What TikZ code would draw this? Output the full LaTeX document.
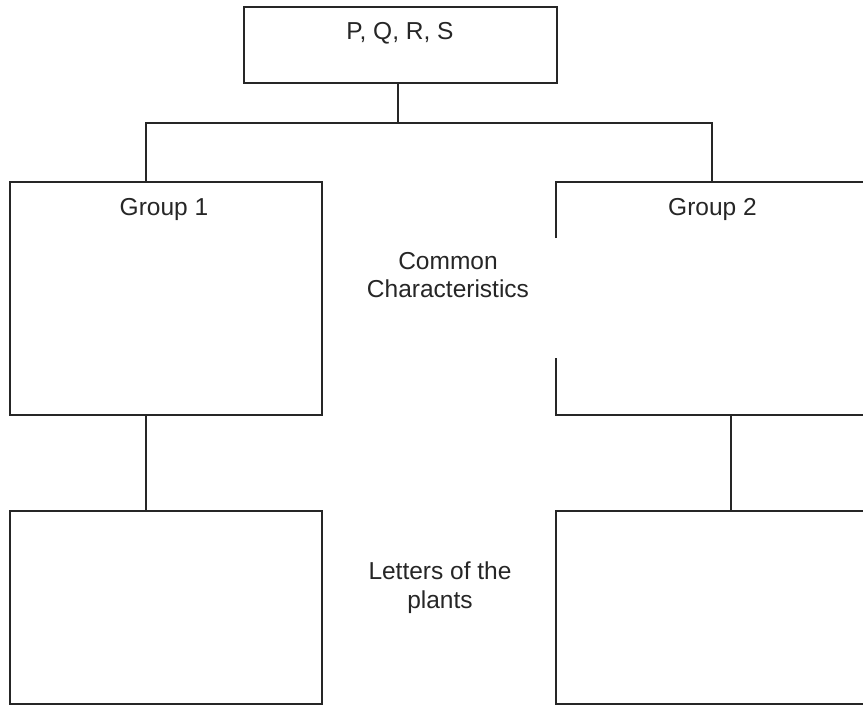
\documentclass[tikz,border=0pt]{standalone}
\usepackage{fontspec}
\setmainfont{Liberation Sans}
\begin{document}
\begin{tikzpicture}[x=1pt,y=-1pt,
  ln/.style={draw=black!85,line width=1.3pt},
  boxshape/.style={rectangle,inner sep=0pt,outer sep=0pt},
  lbl/.style={inner sep=0pt,font=\fontsize{24.5}{28.5}\selectfont,text=black!85,align=center}]
\useasboundingbox (0,0) rectangle (863,705);
\clip (0,0) rectangle (863,705);
\fill[white] (0,0) rectangle (863,705);
% boxes
\node[boxshape,ln,minimum width=313pt,minimum height=76pt] (top) at (400.5,45) {};
\node[boxshape,ln,minimum width=312pt,minimum height=233pt] (g1) at (166,298.5) {};
\node[boxshape,minimum width=330pt,minimum height=233pt] (g2) at (721,298.5) {};
\draw[ln] ([yshift=-56pt]g2.north west) -- (g2.north west) -- (g2.north east)
  -- (g2.south east) -- (g2.south west) -- ([yshift=57pt]g2.south west);
\node[boxshape,ln,minimum width=312pt,minimum height=193pt] (b1) at (166,607.5) {};
\node[boxshape,ln,minimum width=330pt,minimum height=193pt] (b2) at (721,607.5) {};
% texts
\node[lbl,anchor=base] (ttop) at (400,39) {P, Q, R, S};
\node[lbl,anchor=base] (tg1) at (164,215) {Group 1};
\node[lbl,anchor=base] (tg2) at (712.5,215) {Group 2};
\node[lbl,anchor=north] (tcc) at (448,252) {Common\\Characteristics};
\node[lbl,anchor=north] (tlp) at (440,562) {Letters of the\\plants};
% connectors
\coordinate (bar) at (398,123);
\coordinate (s1) at (146,182);
\coordinate (s2) at (712,182);
\draw[ln] (top.south -| bar) -- (bar);
\draw[ln] (s1) |- (bar) -| (s2);
\coordinate (d1) at (146,415);
\coordinate (d2) at (731,415);
\draw[ln] (d1) -- (d1 |- b1.north);
\draw[ln] (d2) -- (d2 |- b2.north);
\end{tikzpicture}
\end{document}
